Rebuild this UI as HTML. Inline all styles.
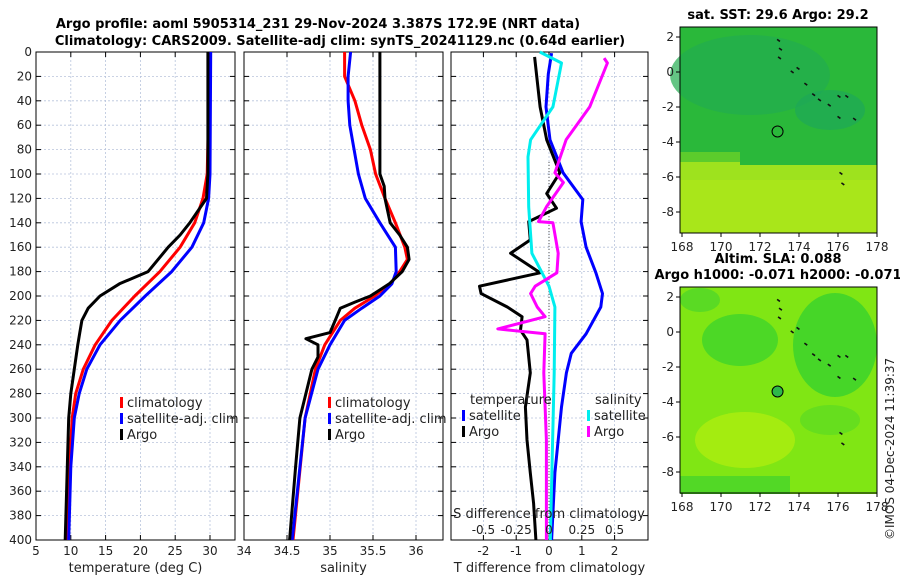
<!DOCTYPE html>
<html><head><meta charset="utf-8"><style>
body{margin:0;background:#fff;}
svg{display:block;font-family:"DejaVu Sans","Liberation Sans",sans-serif;}
</style></head><body>
<svg id="fig" width="900" height="580" viewBox="0 0 900 580">
<text x="318" y="28" font-size="13" font-weight="bold" text-anchor="middle">Argo profile: aoml 5905314_231 29-Nov-2024 3.387S 172.9E (NRT data)</text>
<text x="340" y="45" font-size="13" font-weight="bold" text-anchor="middle">Climatology: CARS2009. Satellite-adj clim: synTS_20241129.nc (0.64d earlier)</text>
<g id="plots"></g>
<g id="maps"></g>
<text transform="translate(894,540) rotate(-90)" font-size="12" fill="#222">©IMOS 04-Dec-2024 11:39:37</text>
</svg>
<script>
const NS="http://www.w3.org/2000/svg";
// depth axis
const depthTicks=[0,20,40,60,80,100,120,140,160,180,200,220,240,260,280,300,320,340,360,380,400];
// temperature panel
const tempTicks=[5,10,15,20,25,30];
const argoTD=[0,100,120,140,150,160,180,190,200,210,220,230,240,260,280,300,340,400];
const argoT=[29.7,29.7,29.5,27.1,25.7,24,21.1,17,14.2,12.5,11.6,11.3,11,10.5,10,9.7,9.5,9.2];
const climTD=[0,100,120,140,160,180,200,220,240,260,280,300,340,400];
const climT=[30,29.6,29,27.8,25.7,22.8,19.2,15.9,13.5,11.8,10.7,10.2,9.8,9.5];
const satTD=[0,100,120,140,160,180,200,220,240,260,280,300,340,400];
const satT=[30.1,30,29.8,29.1,27.4,24.5,20.7,17.1,14.2,12.3,11.2,10.5,10,9.7];
// salinity panel
const salTicks=[34,34.5,35,35.5,36];
const argoSD=[0,100,110,120,140,150,160,170,180,190,200,205,210,220,230,235,240,250,260,280,300,340,400];
const argoS=[35.58,35.58,35.63,35.64,35.7,35.81,35.9,35.92,35.84,35.69,35.47,35.29,35.12,35.06,35,34.72,34.86,34.86,34.79,34.72,34.65,34.6,34.53];
const climSD=[0,20,40,60,80,100,120,140,160,170,180,190,200,210,220,240,260,300,400];
const climS=[35.17,35.17,35.29,35.37,35.47,35.53,35.64,35.76,35.87,35.9,35.81,35.7,35.52,35.29,35.12,34.94,34.83,34.71,34.57];
const satSD=[0,20,40,60,80,100,120,140,160,180,190,200,210,220,240,260,300,400];
const satS=[35.24,35.21,35.21,35.23,35.28,35.33,35.41,35.58,35.76,35.77,35.72,35.58,35.37,35.17,35,34.86,34.71,34.56];
// difference panel
const dTTicks=[-2,-1,0,1,2];
const dSTicks=[-0.5,-0.25,0,0.25,0.5];
const dSTickLabels=["-0.5","-0.25","0","0.25","0.5"];
const argoDTD=[4,45,72,99,116,128,139,154,165,181,192,198,209,217,228,236,263,291,318,345,370,400];
const argoDT=[-0.44,-0.27,-0.07,0.33,-0.07,0.23,-0.62,-0.57,-1.17,-0.27,-2.12,-2.07,-1.27,-0.82,-0.87,-0.67,-0.57,-0.72,-0.67,-0.57,-0.47,-0.4];
const satDTD=[1,18,45,72,99,121,139,160,181,198,209,231,247,263,291,318,345,400];
const satDT=[0.08,-0.02,-0.09,0.03,0.43,1.03,0.98,1.13,1.43,1.63,1.58,1.13,0.68,0.53,0.38,0.28,0.18,0.08];
const satDSD=[0,9,45,72,86,127,165,192,209,263,400];
const satDS=[-0.07,0.095,0.03,-0.14,-0.16,-0.155,-0.13,0,0.045,0.04,0.01];
const argoDSD=[5,9,45,72,99,107,127,139,140,165,181,192,198,209,217,227,231,263,318,400];
const argoDS=[0.42,0.445,0.31,0.13,0.045,0.11,-0.02,-0.08,0.03,0.07,0.06,-0.105,-0.14,-0.09,-0.03,-0.39,-0.03,-0.04,-0.02,-0.02];

const Y0=52,Y1=540;
const yD=d=>Y0+d/400*(Y1-Y0);
const plots=document.getElementById('plots');
function mk(tag,attrs,parent){const e=document.createElementNS(NS,tag);for(const k in attrs)e.setAttribute(k,attrs[k]);(parent||plots).appendChild(e);return e;}
function panel(name,x0,x1,ticks,xf,labels,showY,xlabel){
  const g=mk('g',{});
  
  
  depthTicks.forEach(d=>{const l=mk('line',{x1:x0,x2:x1,y1:yD(d),y2:yD(d),stroke:'#b8c4dc','stroke-width':0.8,'stroke-dasharray':'2,2'},g);
    
    mk('line',{x1:x0,x2:x0+5,y1:yD(d),y2:yD(d),stroke:'#000'},g);mk('line',{x1:x1-5,x2:x1,y1:yD(d),y2:yD(d),stroke:'#000'},g);
    if(showY){const t=mk('text',{x:x0-4,y:yD(d)+4,'font-size':12,'text-anchor':'end',fill:'#222'},g);t.textContent=d;
      }});
  ticks.forEach((v,i)=>{const x=xf(v);const l=mk('line',{x1:x,x2:x,y1:Y0,y2:Y1,stroke:'#b8c4dc','stroke-width':0.8,'stroke-dasharray':'2,2'},g);
    
    mk('line',{x1:x,x2:x,y1:Y1-5,y2:Y1,stroke:'#000'},g);mk('line',{x1:x,x2:x,y1:Y0,y2:Y0+5,stroke:'#000'},g);
    const t=mk('text',{x:x,y:Y1+15,'font-size':12,'text-anchor':'middle',fill:'#222'},g);t.textContent=labels[i];
    });
  const r=mk('rect',{x:x0,y:Y0,width:x1-x0,height:Y1-Y0,fill:'none',stroke:'#000','stroke-width':1},g);
  
  const t=mk('text',{x:(x0+x1)/2,y:Y1+32,'font-size':13,'text-anchor':'middle',fill:'#222'},g);t.textContent=xlabel;
  
  return g;
}
function line(g,name,ds,vs,xf,color,w){
  const p=ds.map((d,i)=>xf(vs[i]).toFixed(1)+','+yD(d).toFixed(1)).join(' ');
  const e=mk('polyline',{points:p,fill:'none',stroke:color,'stroke-width':w||3,'stroke-linejoin':'round'},g);
  
}
function legend(g,name,x,y,color,label){
  const lg=mk('g',{},g);
  
  mk('rect',{x:x,y:y-10,width:3,height:11,fill:color},lg);
  const t=mk('text',{x:x+7,y:y,'font-size':13,fill:'#222'},lg);t.textContent=label;
}
// panel 1
const xT=v=>36+(v-5)*6.96;
const g1=panel('temperature-panel',36,235,tempTicks,xT,tempTicks,true,'temperature (deg C)');
line(g1,'climatology-temperature-line',climTD,climT,xT,'#f00');
line(g1,'satellite-temperature-line',satTD,satT,xT,'#00f');
line(g1,'argo-temperature-line',argoTD,argoT,xT,'#000');
legend(g1,'legend-climatology',120,407,'#f00','climatology');
legend(g1,'legend-satellite-adj',120,423,'#00f','satellite-adj. clim');
legend(g1,'legend-argo',120,439,'#000','Argo');
// panel 2
const xS=v=>244+(v-34)*86;
const g2=panel('salinity-panel',244,443,salTicks,xS,salTicks,false,'salinity');
line(g2,'climatology-salinity-line',climSD,climS,xS,'#f00');
line(g2,'satellite-salinity-line',satSD,satS,xS,'#00f');
line(g2,'argo-salinity-line',argoSD,argoS,xS,'#000');
legend(g2,'legend-climatology-sal',328,407,'#f00','climatology');
legend(g2,'legend-satellite-adj-sal',328,423,'#00f','satellite-adj. clim');
legend(g2,'legend-argo-sal',328,439,'#000','Argo');
// panel 3
const xDT=v=>549+v*32.8;
const xDS=v=>549+v*4*32.8;
const g3=panel('difference-panel',451,648,dTTicks,xDT,dTTicks,false,'T difference from climatology');
const zl=mk('line',{x1:549,x2:549,y1:Y0+110,y2:Y1,stroke:'#555','stroke-dasharray':'1,2'},g3);

line(g3,'satellite-dt-line',satDTD,satDT,xDT,'#00f');
line(g3,'argo-dt-line',argoDTD,argoDT,xDT,'#000');
line(g3,'satellite-ds-line',satDSD,satDS,xDS,'#0ee');
line(g3,'argo-ds-line',argoDSD,argoDS,xDS,'#f0f');
const tt=mk('text',{x:470,y:404,'font-size':13,fill:'#222'},g3);tt.textContent='temperature';

const st=mk('text',{x:595,y:404,'font-size':13,fill:'#222'},g3);st.textContent='salinity';

legend(g3,'legend-temp-satellite',462,420,'#00f','satellite');
legend(g3,'legend-temp-argo',462,436,'#000','Argo');
legend(g3,'legend-sal-satellite',587,420,'#0ee','satellite');
legend(g3,'legend-sal-argo',587,436,'#f0f','Argo');
const sl=mk('text',{x:549,y:518,'font-size':13,'text-anchor':'middle',fill:'#222'},g3);sl.textContent='S difference from climatology';

dSTicks.forEach((v,i)=>{const t=mk('text',{x:xDS(v),y:534,'font-size':12,'text-anchor':'middle',fill:'#222'},g3);t.textContent=dSTickLabels[i];
  });

// maps
const maps=document.getElementById('maps');
const lonTicks=[168,170,172,174,176,178];
const latTicks=[2,0,-2,-4,-6,-8];
const islandsLon=[172.9,173.0,172.95,173.6,173.9,174.3,174.7,175.0,175.5,176.0,176.4,176.0,176.8,176.1,176.2];
const islandsLat=[1.9,1.4,0.9,0.1,0.3,-0.6,-1.2,-1.5,-1.8,-1.3,-1.3,-2.5,-2.6,-5.7,-6.3];
function map(name,y0,title1,title2,blocks,floatFill){
  const g=mk('g',{},maps);
  const x0=680,x1=877,y1=y0+206;
  const lx=v=>682+(v-168)*19.5, ly=v=>y0+10+(2-v)*17.5;
  blocks.forEach(b=>{const r=mk(b[0],b[1],g);});
  islandsLon.forEach((v,i)=>{const r=mk('rect',{x:lx(v),y:ly(islandsLat[i]),width:3.5,height:1.6,fill:'#111',transform:'rotate(35 '+lx(v)+' '+ly(islandsLat[i])+')'},g);
    });
  const c=mk('circle',{cx:lx(172.9),cy:ly(-3.4),r:5.5,fill:floatFill,stroke:'#000','stroke-width':1},g);
  
  mk('rect',{x:x0,y:y0,width:x1-x0,height:y1-y0,fill:'none',stroke:'#000'},g);
  latTicks.forEach(v=>{mk('line',{x1:x0-4,x2:x0,y1:ly(v),y2:ly(v),stroke:'#000'},g);
    const t=mk('text',{x:x0-6,y:ly(v)+4,'font-size':12,'text-anchor':'end',fill:'#222'},g);t.textContent=v;
    });
  lonTicks.forEach(v=>{mk('line',{x1:lx(v),x2:lx(v),y1:y1,y2:y1+4,stroke:'#000'},g);
    const t=mk('text',{x:lx(v),y:y1+18,'font-size':12,'text-anchor':'middle',fill:'#222'},g);t.textContent=v;
    });
  const t1=mk('text',{x:778,y:y0-8-(title2?16:0),'font-size':13,'font-weight':'bold','text-anchor':'middle'},g);t1.textContent=title1;
  
  if(title2){const t2=mk('text',{x:778,y:y0-8,'font-size':13,'font-weight':'bold','text-anchor':'middle'},g);t2.textContent=title2;
    }
}
map('sst-map',27,'sat. SST: 29.6  Argo: 29.2',null,[
 ['rect',{x:680,y:27,width:197,height:206,fill:'#9ee21e'}],
 ['rect',{x:680,y:27,width:197,height:125,fill:'#2ab83a'}],
 ['rect',{x:740,y:145,width:137,height:20,fill:'#2ab83a'}],
 ['rect',{x:680,y:152,width:60,height:10,fill:'#5ccc2c'}],
 ['ellipse',{cx:750,cy:75,rx:80,ry:40,fill:'#22ac50',opacity:0.7}],
 ['ellipse',{cx:830,cy:110,rx:35,ry:20,fill:'#1ea858',opacity:0.7}],
 ['rect',{x:680,y:180,width:197,height:53,fill:'#b4ea16',opacity:0.5}]
],'none');
map('sla-map',287,'Altim. SLA: 0.088','Argo h1000: -0.071 h2000: -0.071',[
 ['rect',{x:680,y:287,width:197,height:207,fill:'#80e614'}],
 ['ellipse',{cx:740,cy:340,rx:38,ry:26,fill:'#4cd826'}],
 ['ellipse',{cx:835,cy:345,rx:42,ry:52,fill:'#46d628'}],
 ['ellipse',{cx:700,cy:300,rx:20,ry:12,fill:'#5ada24'}],
 ['ellipse',{cx:745,cy:440,rx:50,ry:28,fill:'#a4ec10'}],
 ['rect',{x:680,y:476,width:110,height:18,fill:'#52d826'}],
 ['ellipse',{cx:830,cy:420,rx:30,ry:15,fill:'#66de1e'}]
],'#2eb84a');
</script>
</body></html>
